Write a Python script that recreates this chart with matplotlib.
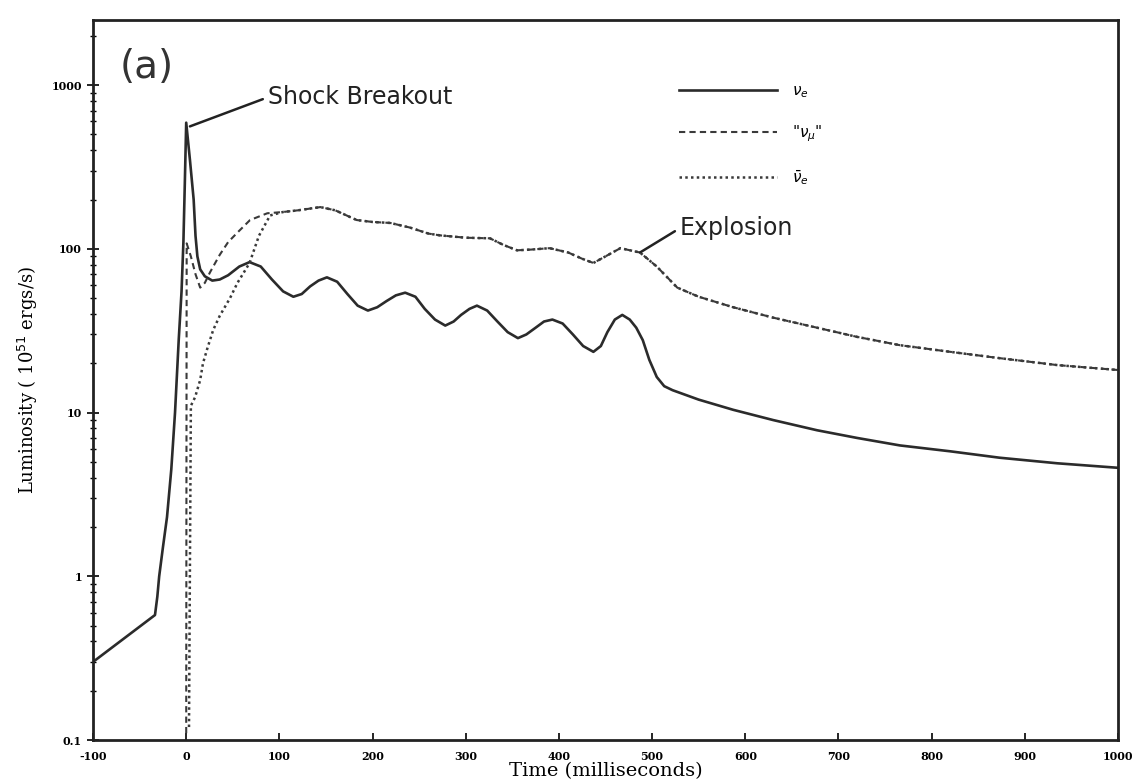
"""
Neutrino luminosities around core bounce: nu_e, "nu_mu" and anti nu_e,
with the shock breakout burst and the later explosion marked.
"""

import matplotlib
matplotlib.use("Agg")
import matplotlib.pyplot as plt
from matplotlib.ticker import FixedLocator, LogLocator, NullFormatter

# nu_e (solid) - time in ms, luminosity in 10^51 ergs/s
nueTime = [-100, -33.5, -31, -29, -25, -20.6, -16, -12, -8, -5, -3, -1.5, 0,
           4, 8, 10, 12, 15, 20, 28, 36, 45, 57, 68, 80, 92, 104, 115, 124,
           133, 142, 151, 162, 173, 184, 195, 205, 215, 225, 235, 246, 256,
           267, 278, 287, 295, 304, 312, 323, 334, 345, 356, 365, 375, 384,
           393, 404, 415, 426, 437, 445, 452, 460, 468, 476, 483, 490, 497,
           505, 513, 522, 550, 587, 630, 677, 720, 766, 820, 873, 935, 1000]
nueLum = [0.3, 0.58, 0.75, 1.0, 1.5, 2.3, 4.5, 10, 28, 55, 110, 250, 590,
          350, 200, 120, 90, 75, 68, 64, 65, 69, 78, 83, 78, 65, 55, 51, 53,
          59, 64, 67, 63, 53, 45, 42, 44, 48, 52, 54, 51, 43,
          37, 34, 36, 39.5, 43, 45, 42, 36, 31, 28.5, 30, 33, 36,
          37, 35, 30, 25.5, 23.5, 25.5, 31, 37, 39.5, 37, 33, 27.7, 21,
          16.5, 14.5, 13.7, 12, 10.4, 9, 7.8, 7, 6.3, 5.8, 5.3, 4.9, 4.6]

# "nu_mu" (dashed)
numuTime = [0, 0.5, 5, 10, 15, 20, 25.6, 36, 45, 54.5, 68.5, 87, 104, 120,
            144, 160, 183, 200, 219, 240, 260, 272, 300, 326, 340, 355, 370,
            390, 410, 425, 437, 450, 466, 487, 505, 527, 550, 587, 630, 677,
            720, 766, 820, 873, 935, 1000]
numuLum = [0.11, 108, 90, 70, 58, 62, 72, 92, 110, 125, 150, 165, 168, 172,
           180, 172, 150, 146, 144, 135, 124, 121, 117, 116, 106, 98, 99,
           101, 95, 87, 82, 90, 101, 95, 78, 58, 51, 44, 38, 33,
           29, 25.8, 23.5, 21.5, 19.5, 18.2]

# anti nu_e (dotted)
anueTime = [3, 5, 9.5, 15, 18, 23, 29, 36, 47, 55, 62, 68, 78, 90, 104, 120,
            144, 160, 183, 200, 219, 240, 260, 272, 300, 326, 340, 355, 370,
            390, 410, 425, 437, 450, 466, 487, 505, 527, 550, 587, 630, 677,
            720, 766, 820, 873, 935, 1000]
anueLum = [0.12, 11, 12.4, 15.8, 20, 25, 32, 39, 50, 62, 72, 82, 120, 160,
           168, 172, 180, 172, 150, 146, 144, 135, 124, 121, 117, 116, 106,
           98, 99, 101, 95, 87, 82, 90, 101, 95, 78, 58, 51, 44, 38, 33,
           29, 25.8, 23.5, 21.5, 19.5, 18.2]

xTicks = [-100, 0, 100, 200, 300, 400, 500, 600, 700, 800, 900, 1000]
yTicks = [0.1, 1, 10, 100, 1000]
yTickLabels = ["0.1", "1", "10", "100", "1000"]

fig = plt.figure(figsize=(11.4, 7.82), dpi=100)
ax = fig.add_axes([0.0816, 0.0537, 0.8991, 0.9207])

ax.plot(nueTime, nueLum, color="#2b2b2b", lw=1.9, solid_joinstyle="round",
        label=r"$\nu_e$")
ax.plot(numuTime, numuLum, color="#3a3a3a", lw=1.5, ls=(0, (3, 2)),
        label=r'"$\nu_\mu$"')
ax.plot(anueTime, anueLum, color="#3a3a3a", lw=1.8, ls=(0, (1, 1.3)),
        label=r"$\bar{\nu}_e$")

ax.set_yscale("log")
ax.set_xlim(-100, 1000)
ax.set_ylim(0.1, 2500)

ax.xaxis.set_major_locator(FixedLocator(xTicks))
ax.set_xticklabels([str(t) for t in xTicks], fontsize=8, weight="bold",
                   family="DejaVu Serif")
ax.yaxis.set_major_locator(FixedLocator(yTicks))
ax.set_yticklabels(yTickLabels, fontsize=8, weight="bold",
                   family="DejaVu Serif")
ax.yaxis.set_minor_locator(LogLocator(base=10, subs=range(2, 10)))
ax.yaxis.set_minor_formatter(NullFormatter())

ax.tick_params(axis="x", direction="in", length=5, width=1.2, pad=8)
ax.tick_params(axis="y", which="major", direction="inout", length=9, width=1.2)
ax.tick_params(axis="y", which="minor", direction="inout", length=5, width=1.0)
for side in ax.spines.values():
    side.set_linewidth(2.0)
    side.set_color("#222222")

ax.set_xlabel("Time (milliseconds)", fontsize=14, family="DejaVu Serif",
              labelpad=0)
ax.set_ylabel(r"Luminosity ( 10$^{51}$ ergs/s)", fontsize=13,
              family="DejaVu Serif", labelpad=8)

ax.text(0.026, 0.935, "(a)", transform=ax.transAxes, fontsize=28,
        va="center", ha="left", color="#333333")

ax.annotate("Shock Breakout", xy=(4, 560), xytext=(88, 845),
            fontsize=17, va="center", ha="left", color="#222222",
            arrowprops=dict(arrowstyle="-", color="#222222", lw=1.8,
                            relpos=(0, 0.5), shrinkA=2, shrinkB=0))
ax.annotate("Explosion", xy=(487, 95), xytext=(530, 134),
            fontsize=17, va="center", ha="left", color="#222222",
            arrowprops=dict(arrowstyle="-", color="#222222", lw=1.8,
                            relpos=(0, 0.5), shrinkA=2, shrinkB=0))

ax.legend(loc="upper left", bbox_to_anchor=(0.572, 0.912), frameon=False,
          fontsize=11, handlelength=6.4, labelspacing=1.55, handletextpad=1.0,
          borderpad=0, borderaxespad=0)

fig.savefig("out.png", dpi=100)
